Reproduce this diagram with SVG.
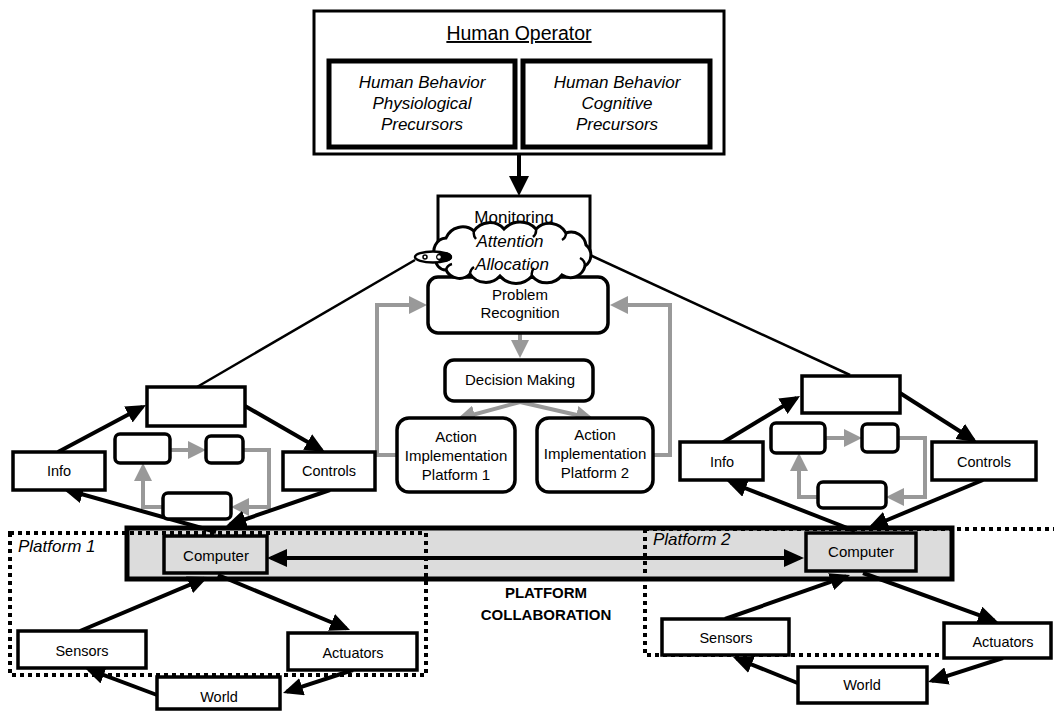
<svg xmlns="http://www.w3.org/2000/svg" width="1054" height="711" viewBox="0 0 1054 711">
  <defs>
    <style>
      .box{fill:#fff;stroke:#000;stroke-width:3.5}
      .rbox{fill:#fff;stroke:#000;stroke-width:3.5}
      .thick{fill:#fff;stroke:#000;stroke-width:5}
      .grayfill{fill:#dcdcdc;stroke:#000;stroke-width:3.5}
      .t{font-family:"Liberation Sans",Arial,sans-serif;font-size:14.5px;text-anchor:middle;fill:#000}
      .it{font-style:italic}
      .blk{stroke:#000;stroke-width:4;fill:none;marker-end:url(#ah)}
      .gry{stroke:#999;stroke-width:4;fill:none;marker-end:url(#ag)}
      .thin{stroke:#000;stroke-width:2.5;fill:none}
      .dot{fill:none;stroke:#000;stroke-width:4;stroke-dasharray:4 4}
    </style>
    <marker id="ah" markerUnits="userSpaceOnUse" markerWidth="20" markerHeight="18" refX="16" refY="9" orient="auto">
      <path d="M0,0 L20,9 L0,18 z" fill="#000"/>
    </marker>
    <marker id="ah2" markerUnits="userSpaceOnUse" markerWidth="20" markerHeight="18" refX="16" refY="9" orient="auto-start-reverse">
      <path d="M0,0 L20,9 L0,18 z" fill="#000"/>
    </marker>
    <marker id="ahb" markerUnits="userSpaceOnUse" markerWidth="20" markerHeight="20" refX="16" refY="10" orient="auto">
      <path d="M0,0 L20,10 L0,20 z" fill="#000"/>
    </marker>
    <marker id="ag" markerUnits="userSpaceOnUse" markerWidth="18" markerHeight="18" refX="14" refY="9" orient="auto">
      <path d="M0,0 L18,9 L0,18 z" fill="#999"/>
    </marker>
  </defs>

  <!-- platform collaboration band -->
  <g id="collaboration-bar">
    <rect x="127" y="528" width="825" height="51" fill="#dcdcdc" stroke="#000" stroke-width="5"/>
  </g>

  <!-- platform boundaries -->
  <g id="platform-1-boundary">
    <rect class="dot" x="10" y="533" width="416" height="142"/>
    <text class="t it" x="18" y="552" style="font-size:17px;text-anchor:start">Platform 1</text>
  </g>
  <g id="platform-2-boundary">
    <rect class="dot" x="645" y="529" width="420" height="126"/>
    <text class="t it" x="653" y="545" style="font-size:17px;text-anchor:start">Platform 2</text>
  </g>
  <g id="collaboration-label">
    <text class="t" x="546" y="598" style="font-size:15px;font-weight:bold">PLATFORM</text>
    <text class="t" x="546" y="620" style="font-size:15px;font-weight:bold">COLLABORATION</text>
  </g>

  <!-- connectors -->
  <g id="connectors">
    <!-- operator to monitoring -->
    <line x1="519" y1="154" x2="519" y2="192" stroke="#000" stroke-width="4" marker-end="url(#ahb)"/>
    <!-- attention lines to each platform -->
    <path class="thin" d="M415,260 L197,387"/>
    <path class="thin" d="M590,255 L850,375"/>
    <!-- cognitive loop -->
    <path class="gry" d="M520,333 L520,354"/>
    <path class="gry" d="M520,402 L461,418"/>
    <path class="gry" d="M520,402 L590,418"/>
    <path class="gry" d="M397,455 L377,455 L377,305 L423,305"/>
    <path class="gry" d="M653,455 L670,455 L670,305 L614,305"/>

    <!-- platform 1 loop -->
    <path class="gry" d="M170,450 L202,450"/>
    <path class="gry" d="M243,450 L269,450 L269,507 L235,507"/>
    <path class="gry" d="M163,507 L143,507 L143,467"/>
    <path class="blk" d="M58,452 L142.5,407"/>
    <path class="blk" d="M245,406 L321.5,450"/>
    <path class="blk" d="M330,490 L230,524.5"/>
    <path class="blk" d="M216,532 L67,490"/>
    <path class="blk" d="M80,631 L204.3,578.6"/>
    <path class="blk" d="M218,575 L346.3,628.5"/>
    <path class="blk" d="M157,695 L88.7,669.4"/>
    <path class="blk" d="M353,670 L286.8,691.7"/>

    <!-- platform 2 loop -->
    <path class="gry" d="M825,438 L858,438"/>
    <path class="gry" d="M898,438 L925,438 L925,497 L890,497"/>
    <path class="gry" d="M818,497 L799,497 L799,457"/>
    <path class="blk" d="M722,443 L796.6,398"/>
    <path class="blk" d="M900,393 L973.6,440"/>
    <path class="blk" d="M983,480 L871.7,526.5"/>
    <path class="blk" d="M855,531 L730.7,482.5"/>
    <path class="blk" d="M725,619 L846.2,576.3"/>
    <path class="blk" d="M863,573 L994.2,620.6"/>
    <path class="blk" d="M800,684 L736.7,658.5"/>
    <path class="blk" d="M1003,658 L931.8,680.8"/>

    <!-- computer to computer link -->
    <line x1="271" y1="558" x2="800" y2="558" stroke="#000" stroke-width="4" marker-start="url(#ah2)" marker-end="url(#ah2)"/>
  </g>

  <!-- human operator -->
  <g id="human-operator">
    <rect x="314" y="11" width="410" height="143" fill="#fff" stroke="#000" stroke-width="3"/>
    <text class="t" x="519" y="40" style="font-size:19.5px;text-decoration:underline">Human Operator</text>
  </g>
  <g id="physiological-precursors">
    <rect class="thick" x="329" y="61" width="186" height="86"/>
    <text class="t it" x="422" y="88" style="font-size:17px">Human Behavior</text>
    <text class="t it" x="422" y="109" style="font-size:17px">Physiological</text>
    <text class="t it" x="422" y="130" style="font-size:17px">Precursors</text>
  </g>
  <g id="cognitive-precursors">
    <rect class="thick" x="523" y="61" width="187" height="86"/>
    <text class="t it" x="617" y="88" style="font-size:17px">Human Behavior</text>
    <text class="t it" x="617" y="109" style="font-size:17px">Cognitive</text>
    <text class="t it" x="617" y="130" style="font-size:17px">Precursors</text>
  </g>

  <!-- monitoring -->
  <g id="monitoring">
    <rect x="438" y="196" width="152" height="60" fill="#fff" stroke="#000" stroke-width="3"/>
    <text class="t" x="514" y="223" style="font-size:17px">Monitoring</text>
  </g>

  <!-- problem recognition -->
  <g id="problem-recognition">
    <rect class="rbox" x="428" y="277" width="180" height="56" rx="10"/>
    <text class="t" x="520" y="300" style="font-size:15px">Problem</text>
    <text class="t" x="520" y="318" style="font-size:15px">Recognition</text>
  </g>

  <!-- attention allocation cloud -->
  <g id="attention-allocation">
    <path d="M436,258 A13,13 0 0 1 446,238 A18,18 0 0 1 474,231 A19,19 0 0 1 504,229 A22,22 0 0 1 536,229 A19,19 0 0 1 566,233 A15,15 0 0 1 586,245 A13,13 0 0 1 585,266 A15,15 0 0 1 562,275 A19,19 0 0 1 532,276 A21,21 0 0 1 500,276 A19,19 0 0 1 470,274 A15,15 0 0 1 446,270 A10,10 0 0 1 436,258 Z" fill="#fff" stroke="#000" stroke-width="3"/>
    <path d="M474,231 A9,9 0 0 0 476,239 M536,229 A9,9 0 0 1 533,237 M566,233 A8,8 0 0 1 562,240 M585,266 A9,9 0 0 0 580,258 M532,276 A9,9 0 0 1 534,268 M470,274 A9,9 0 0 1 474,267 M446,270 A8,8 0 0 1 452,264" fill="none" stroke="#000" stroke-width="2.5"/>
    <text class="t it" x="510" y="247" style="font-size:17px">Attention</text>
    <text class="t it" x="512" y="270" style="font-size:17px">Allocation</text>
    <ellipse cx="433" cy="257" rx="18" ry="5.5" fill="#fff" stroke="#000" stroke-width="2.5"/>
    <ellipse cx="444" cy="257" rx="8" ry="5" fill="#000"/>
    <circle cx="439" cy="257" r="1.8" fill="#fff"/>
    <circle cx="425" cy="257" r="2" fill="none" stroke="#000" stroke-width="1.5"/>
  </g>

  <!-- decision making -->
  <g id="decision-making">
    <rect class="rbox" x="445" y="360" width="148" height="41" rx="9"/>
    <text class="t" x="520" y="385" style="font-size:15px">Decision Making</text>
  </g>

  <!-- action implementation -->
  <g id="action-platform-1">
    <rect class="rbox" x="397" y="418" width="118" height="74" rx="12"/>
    <text class="t" x="456" y="442" style="font-size:15px">Action</text>
    <text class="t" x="456" y="461" style="font-size:15px">Implementation</text>
    <text class="t" x="456" y="480" style="font-size:15px">Platform 1</text>
  </g>
  <g id="action-platform-2">
    <rect class="rbox" x="537" y="418" width="116" height="74" rx="12"/>
    <text class="t" x="595" y="440" style="font-size:15px">Action</text>
    <text class="t" x="595" y="459" style="font-size:15px">Implementation</text>
    <text class="t" x="595" y="478" style="font-size:15px">Platform 2</text>
  </g>

  <!-- platform 1 nodes -->
  <g id="p1-supervisor"><rect class="box" x="147" y="387" width="98" height="39"/></g>
  <g id="p1-info">
    <rect class="box" x="13" y="452" width="92" height="38"/>
    <text class="t" x="59" y="476">Info</text>
  </g>
  <g id="p1-controls">
    <rect class="box" x="283" y="452" width="92" height="38"/>
    <text class="t" x="329" y="476">Controls</text>
  </g>
  <g id="p1-step-a"><rect class="rbox" x="115" y="434" width="55" height="29" rx="5"/></g>
  <g id="p1-step-b"><rect class="rbox" x="206" y="436" width="37" height="27" rx="5"/></g>
  <g id="p1-step-c"><rect class="rbox" x="163" y="493" width="68" height="26" rx="5"/></g>
  <g id="p1-computer">
    <rect class="grayfill" x="164" y="536" width="103" height="37"/>
    <text class="t" x="216" y="561" style="font-size:15px">Computer</text>
  </g>
  <g id="p1-sensors">
    <rect class="box" x="18" y="631" width="128" height="37"/>
    <text class="t" x="82" y="656">Sensors</text>
  </g>
  <g id="p1-actuators">
    <rect class="box" x="288" y="633" width="129" height="37"/>
    <text class="t" x="353" y="658">Actuators</text>
  </g>
  <g id="p1-world">
    <rect class="box" x="157" y="677" width="123" height="32"/>
    <text class="t" x="219" y="702">World</text>
  </g>

  <!-- platform 2 nodes -->
  <g id="p2-supervisor"><rect class="box" x="802" y="376" width="98" height="37"/></g>
  <g id="p2-info">
    <rect class="box" x="680" y="442" width="83" height="38"/>
    <text class="t" x="722" y="467">Info</text>
  </g>
  <g id="p2-controls">
    <rect class="box" x="932" y="442" width="104" height="38"/>
    <text class="t" x="984" y="467">Controls</text>
  </g>
  <g id="p2-step-a"><rect class="rbox" x="771" y="423" width="54" height="30" rx="5"/></g>
  <g id="p2-step-b"><rect class="rbox" x="862" y="424" width="36" height="28" rx="5"/></g>
  <g id="p2-step-c"><rect class="rbox" x="818" y="482" width="68" height="26" rx="5"/></g>
  <g id="p2-computer">
    <rect class="grayfill" x="806" y="533" width="110" height="38"/>
    <text class="t" x="861" y="557" style="font-size:15px">Computer</text>
  </g>
  <g id="p2-sensors">
    <rect class="box" x="662" y="619" width="127" height="36"/>
    <text class="t" x="726" y="643">Sensors</text>
  </g>
  <g id="p2-actuators">
    <rect class="box" x="944" y="623" width="107" height="35"/>
    <text class="t" x="1003" y="647">Actuators</text>
  </g>
  <g id="p2-world">
    <rect class="box" x="798" y="667" width="129" height="36"/>
    <text class="t" x="862" y="690">World</text>
  </g>
</svg>
